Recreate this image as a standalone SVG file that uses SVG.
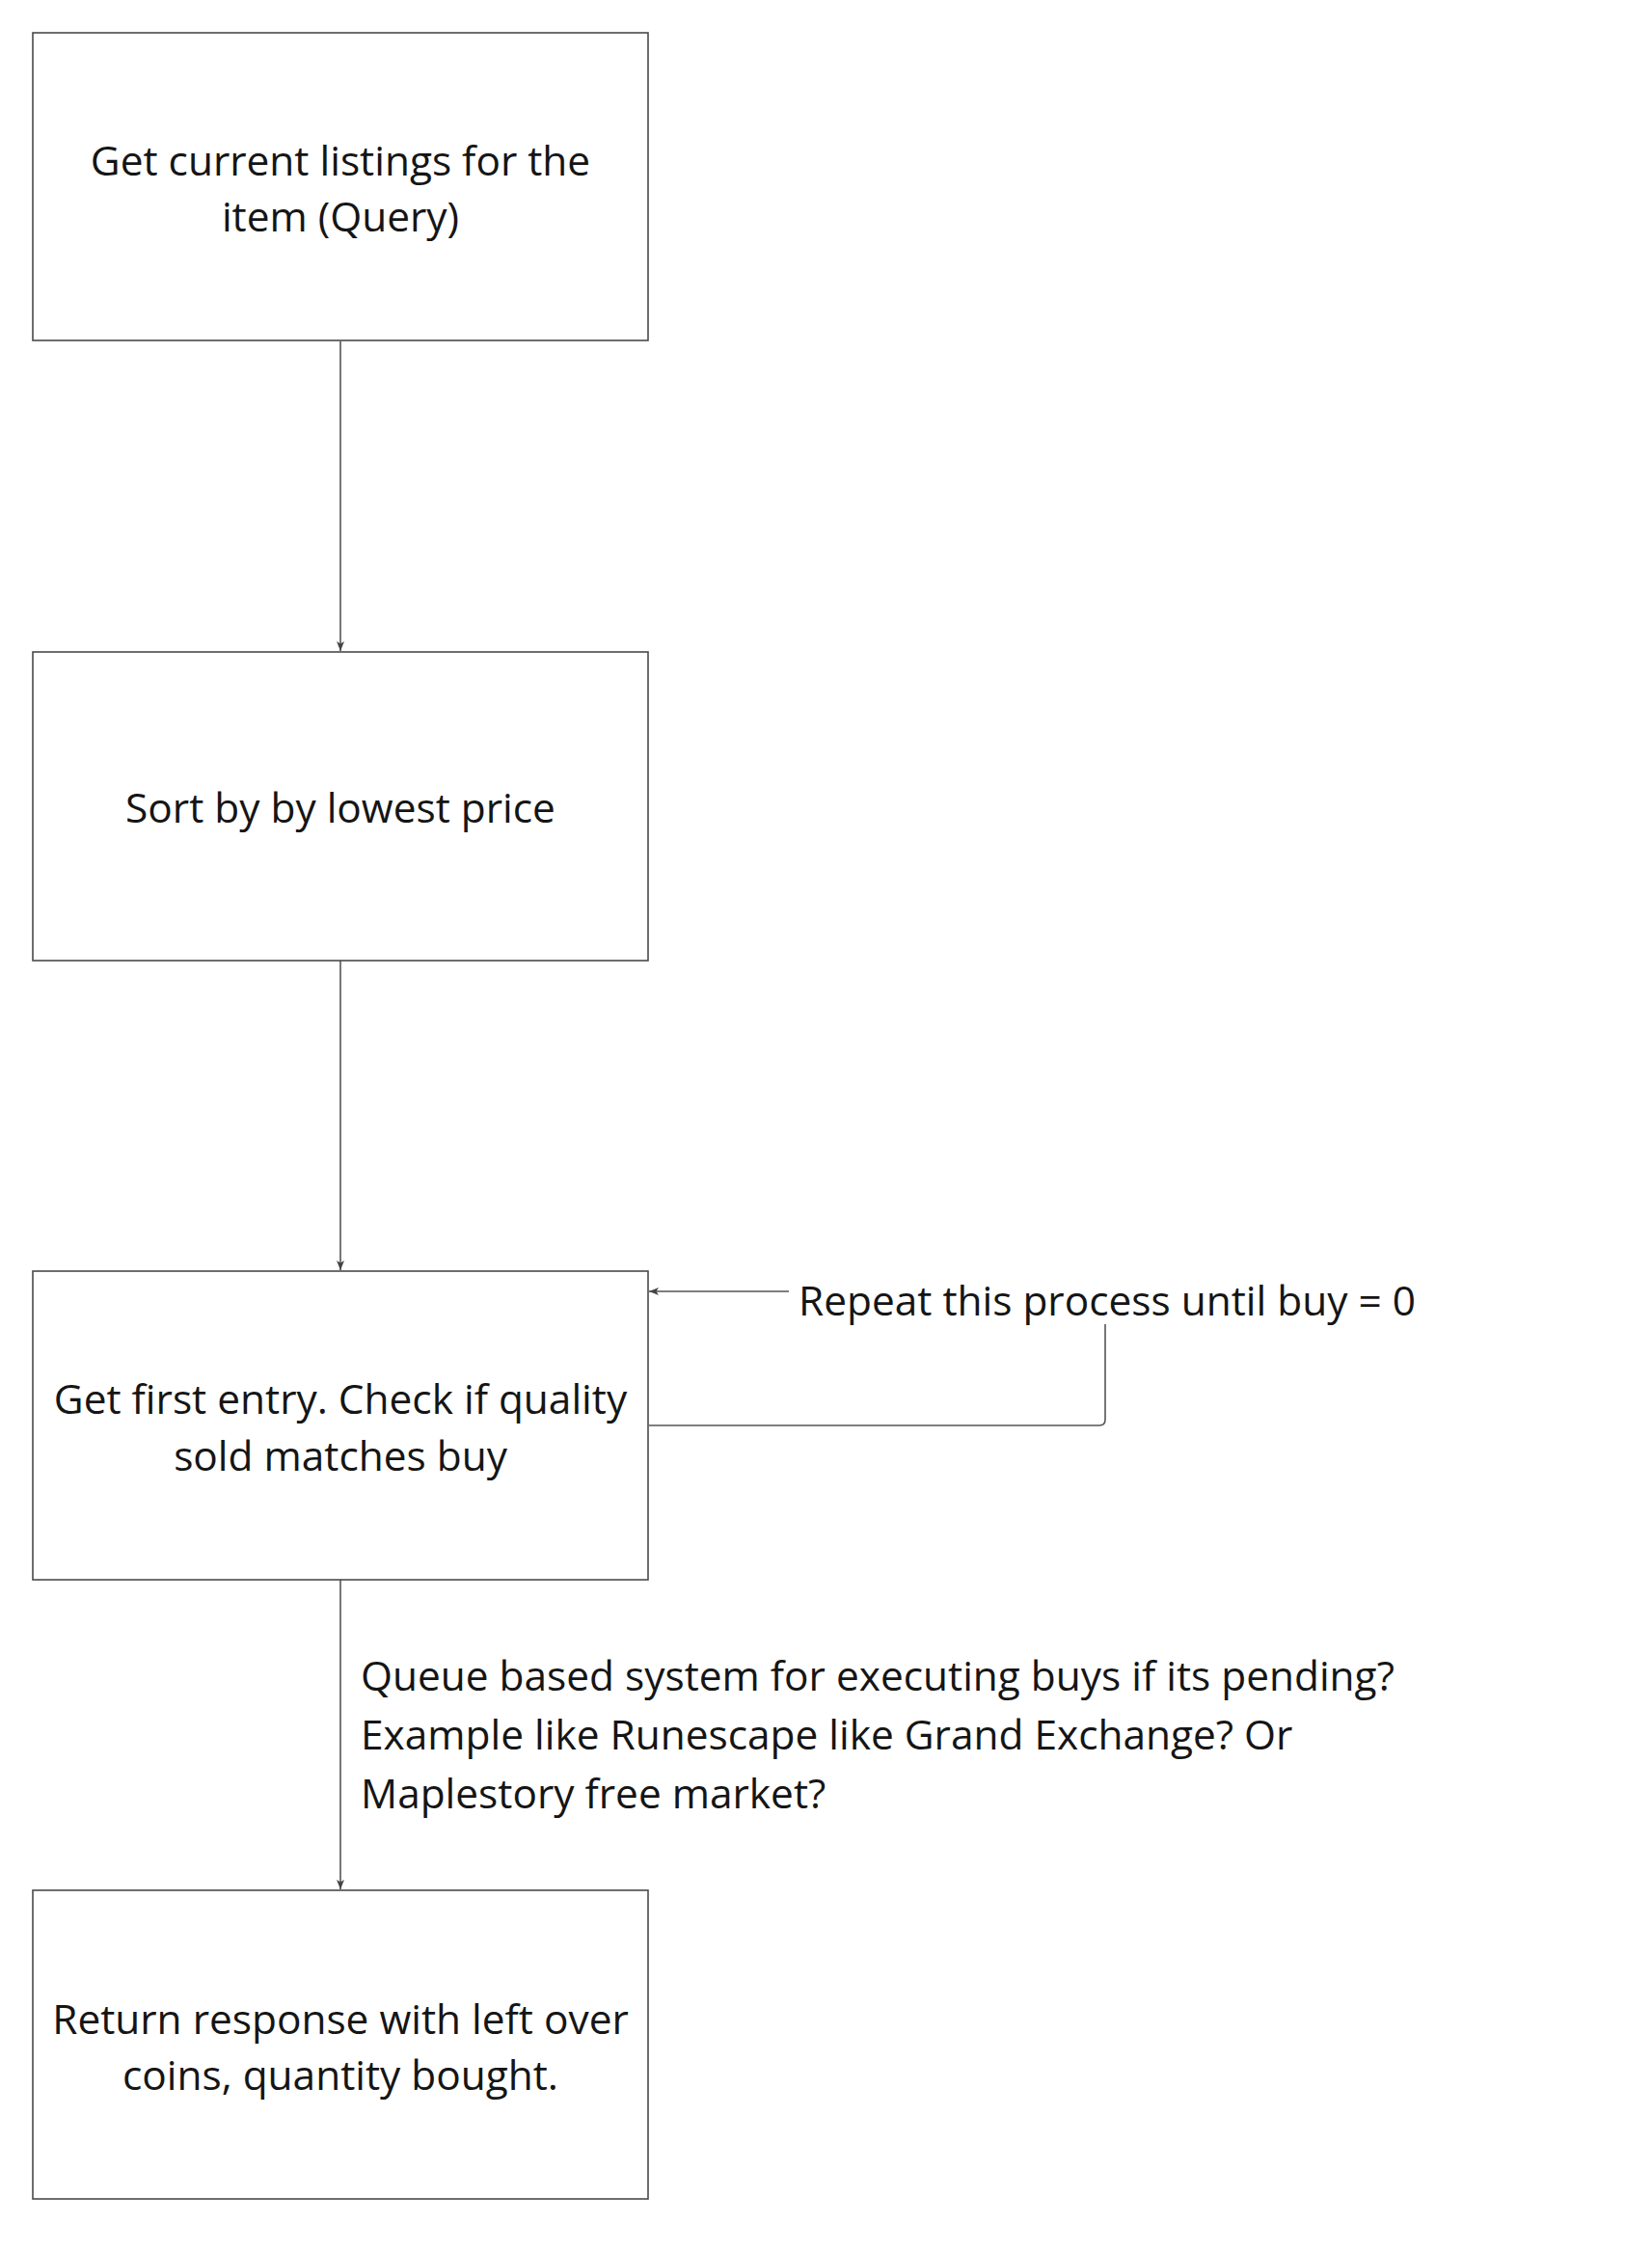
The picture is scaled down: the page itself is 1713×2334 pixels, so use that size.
<svg xmlns="http://www.w3.org/2000/svg" width="1713" height="2334" viewBox="0 0 1713 2334">
<style>
.box{fill:#ffffff;stroke:#4a4a4a;stroke-width:1.6}
.t{font-family:"Open Sans","Noto Sans",sans-serif;font-size:42.4px;fill:#151515;text-anchor:middle}
.lbl{font-family:"Open Sans","Noto Sans",sans-serif;font-size:42.4px;fill:#151515}
.edge{fill:none;stroke:#555555;stroke-width:1.6}
</style>
<defs>
<marker id="arr" viewBox="0 0 10 10" refX="10" refY="5" markerWidth="10" markerHeight="10" markerUnits="userSpaceOnUse" orient="auto">
<path d="M0,1 L10,5 L0,9 L2.5,5 z" fill="#444444"/>
</marker>
</defs>
<rect width="1713" height="2334" fill="#ffffff"/>
<g id="connectors">
<path class="edge" d="M353,354 V675" marker-end="url(#arr)"/>
<path class="edge" d="M353,996 V1317" marker-end="url(#arr)"/>
<path class="edge" d="M353,1638 V1959" marker-end="url(#arr)"/>
<path class="edge" d="M673,1478 H1140 Q1146,1478 1146,1472 V1339 H673" marker-end="url(#arr)"/>
<g id="loop-label">
<rect x="818" y="1306" width="664" height="67" fill="#ffffff"/>
<text class="lbl" x="828" y="1363.5">Repeat this process until buy = 0</text>
</g>
<g id="queue-label">
<text class="lbl" x="374" y="1752.5">Queue based system for executing buys if its pending?</text>
<text class="lbl" x="374" y="1813.5">Example like Runescape like Grand Exchange? Or</text>
<text class="lbl" x="374" y="1874.5">Maplestory free market?</text>
</g>
</g>
<g id="node1">
<rect class="box" x="34" y="34" width="638" height="319"/>
<text class="t" x="353" y="181.5">Get current listings for the</text>
<text class="t" x="353" y="239.5">item (Query)</text>
</g>
<g id="node2">
<rect class="box" x="34" y="676" width="638" height="320"/>
<text class="t" x="353" y="852.5">Sort by by lowest price</text>
</g>
<g id="node3">
<rect class="box" x="34" y="1318" width="638" height="320"/>
<text class="t" x="353" y="1465.5">Get first entry. Check if quality</text>
<text class="t" x="353" y="1524.5">sold matches buy</text>
</g>
<g id="node4">
<rect class="box" x="34" y="1960" width="638" height="320"/>
<text class="t" x="353" y="2108.5">Return response with left over</text>
<text class="t" x="353" y="2166.5">coins, quantity bought.</text>
</g>
</svg>
